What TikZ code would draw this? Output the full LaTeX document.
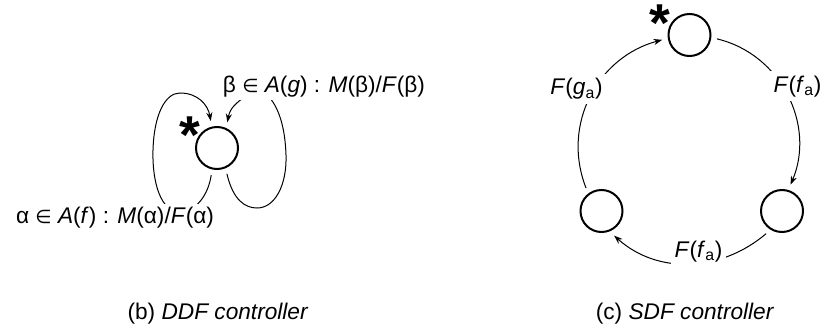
\documentclass[tikz,border=0pt]{standalone}
\usepackage{fontspec}
\setmainfont{Liberation Sans}
\newfontfamily\symfont{DejaVu Sans}
\newcommand{\elemof}{{\symfont\fontsize{14}{14}\selectfont ∈}}
\usetikzlibrary{arrows.meta}
\begin{document}
\begin{tikzpicture}[x=0.75pt,y=0.75pt,
  state/.style={circle,draw,line width=1.5pt,minimum size=31.5pt,inner sep=0pt,outer sep=5pt},
  lbl/.style={font=\fontsize{17}{20}\selectfont,inner sep=2pt,fill=white,anchor=base},
  captxt/.style={font=\fontsize{17}{20}\selectfont,inner sep=0pt,anchor=base},
  star/.style={font=\fontsize{40}{40}\selectfont\bfseries,inner sep=0pt,anchor=north},
  conn/.style={line width=0.75pt,-{Stealth[length=6.5pt,width=4.6pt]}},
]
\fill[white] (0,0) rectangle (827,329);
\useasboundingbox (0,0) rectangle (827,329);

% (b) DDF controller
\node[state] (D) at (217,181) {};
\node[star] (sD) at (190,212) {*};
\draw[conn] (D.-102) .. controls (208,133) and (196,119) .. (182,117)
  .. controls (160,115) and (152,149) .. (153,179)
  .. controls (154,214) and (165,236) .. (180,236)
  .. controls (198,236) and (208,224) .. (D.103);
\draw[conn] (D.-69) .. controls (233,129) and (245,121) .. (257,121)
  .. controls (275,121) and (287,144) .. (286,174)
  .. controls (285,204) and (278,221) .. (270,231)
  .. controls (262,241) and (252,239) .. (246,233)
  .. controls (236,226) and (230,221) .. (D.68);
\node[lbl] (la) at (115,106) {α \elemof{} \textit{A}(\textit{f}) : \textit{M}(α)/\textit{F}(α)};
\node[lbl] (lb) at (324,236) {β \elemof{} \textit{A}(\textit{g}) : \textit{M}(β)/\textit{F}(β)};
\node[captxt] (cb) at (218,10) {(b) \textit{DDF controller}};

% (c) SDF controller
\node[state] (T) at (689.5,294) {};
\node[state] (LL) at (601.5,118) {};
\node[state] (LR) at (782,118) {};
\node[star] (sT) at (660,324) {*};
\draw[conn] (LL.124) .. controls (561,205) and (598,272) .. (T.190);
\draw[conn] (T.-8) .. controls (781.7,274.7) and (815.5,203.4) .. (LR.72);
\draw[conn] (LR.235) .. controls (721.2,57.2) and (658.5,53.9) .. (LL.-63);
\node[lbl,inner sep=3.5pt] (lg) at (576.5,234) {\textit{F}(\textit{g}\textsubscript{a})};
\node[lbl,inner sep=3.5pt] (lf1) at (797.5,237) {\textit{F}(\textit{f}\textsubscript{a})};
\node[lbl,inner sep=3pt] (lf2) at (698.5,72) {\textit{F}(\textit{f}\textsubscript{a})};
\node[captxt] (cc) at (685,10) {(c) \textit{SDF controller}};
\end{tikzpicture}
\end{document}
